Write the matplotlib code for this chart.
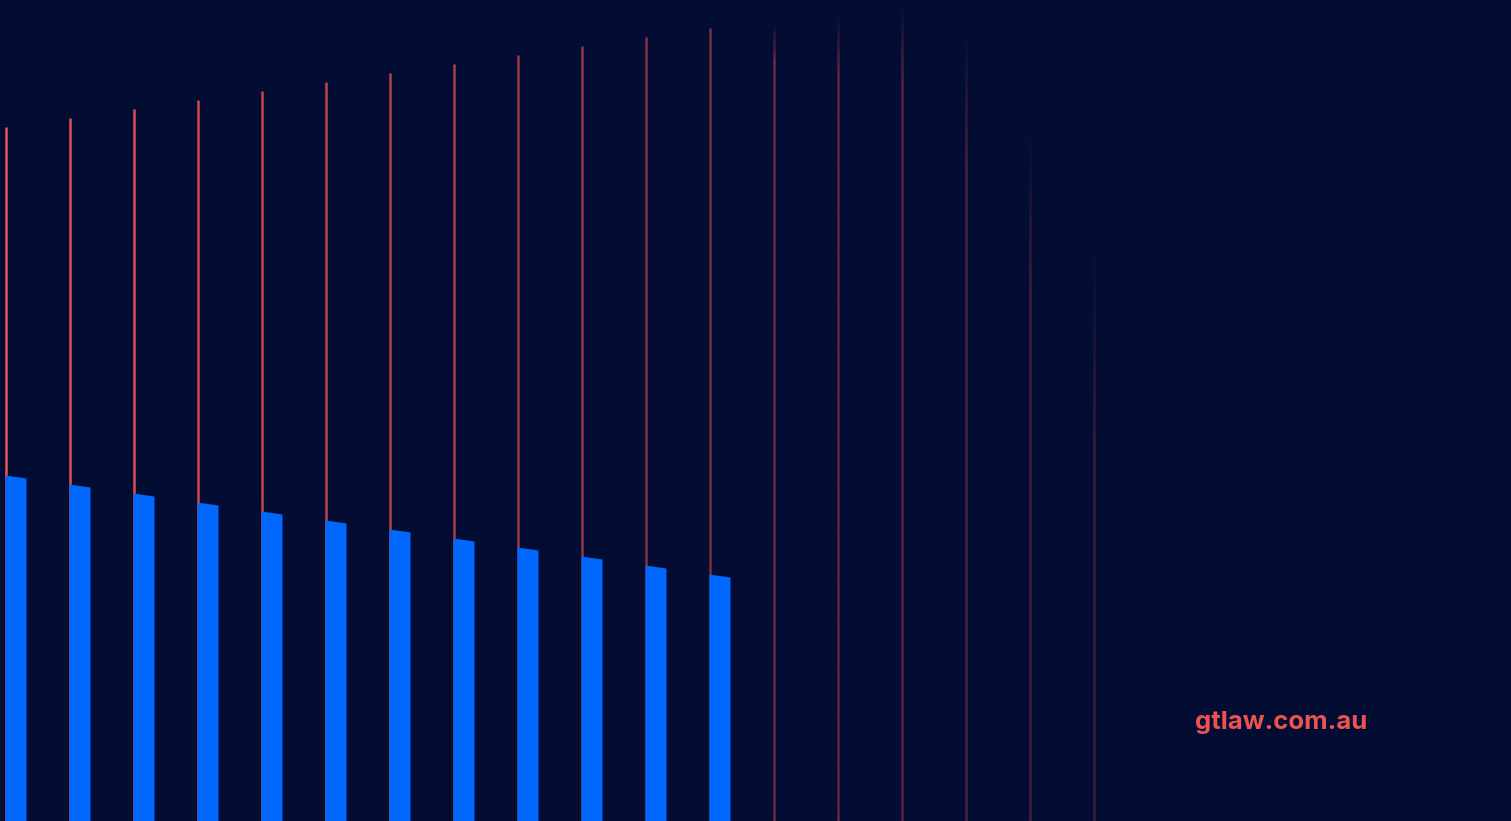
import numpy as np
import matplotlib
matplotlib.use("Agg")
import matplotlib.pyplot as plt
from matplotlib.collections import LineCollection
from matplotlib.colors import to_rgb

# pixel-space layout: x in px from left, heights in px from bottom
W, H = 1511, 821

bar_x = [5, 69, 133, 197, 261, 325, 389, 453, 517, 581, 645, 709]
bar_heights = [346, 337, 328, 319, 310, 301, 292, 283, 274, 265, 256, 247]

line_x = [6, 70, 134, 198, 262, 326, 390, 454, 518, 582, 646, 710,
          774, 838, 902, 966, 1030, 1094]
line_heights = [694, 703, 712, 721, 730, 739, 748, 757, 766, 775, 784, 793,
                802, 811, 821, 800, 700, 590]
line_alpha = [1.0, 0.96, 0.92, 0.88, 0.84, 0.8, 0.75, 0.7, 0.65, 0.6, 0.55, 0.5,
              0.44, 0.4, 0.36, 0.32, 0.28, 0.24]
# length of the top fade (px) for the far lines
line_fade = [0, 0, 0, 0, 0, 0, 0, 0, 0, 0, 0, 0,
             40, 60, 80, 150, 180, 220]

bg = "#030c33"
red = "#ec5350"
blue = "#0068ff"

fig = plt.figure(figsize=(W / 100, H / 100), dpi=100)
fig.patch.set_facecolor(bg)
ax = fig.add_axes([0, 0, 1, 1])
ax.set_facecolor(bg)
ax.set_xlim(0, W)
ax.set_ylim(0, H)
ax.axis("off")

# thin red lines, fading with x and (for the far ones) at the top
r, g, b = to_rgb(red)
for x, h, a, f in zip(line_x, line_heights, line_alpha, line_fade):
    if f == 0:
        ax.plot([x, x], [0, h], color=red, alpha=a, lw=1.8,
                solid_capstyle="butt", zorder=1)
        continue
    ys = np.linspace(0, h, 120)
    segs = [[(x, ys[k]), (x, ys[k + 1])] for k in range(len(ys) - 1)]
    cols = [(r, g, b, a * np.clip((h - ys[k + 1]) / f, 0, 1))
            for k in range(len(ys) - 1)]
    ax.add_collection(LineCollection(segs, colors=cols, linewidths=1.8,
                                     capstyle="butt", zorder=1))

# blue bars with a slightly slanted top
bar_w = 21
slant = 3
for x, h in zip(bar_x, bar_heights):
    xs = np.array([x, x + bar_w])
    ax.fill_between(xs, 0, [h, h - slant], color=blue, linewidth=0, zorder=2)

ax.text(1281, 99, "gtlaw.com.au", color=red, fontsize=18.5, fontweight="bold",
        family=["Inter", "DejaVu Sans"], ha="center", va="center")

fig.savefig("out.png", dpi=100, facecolor=bg)
